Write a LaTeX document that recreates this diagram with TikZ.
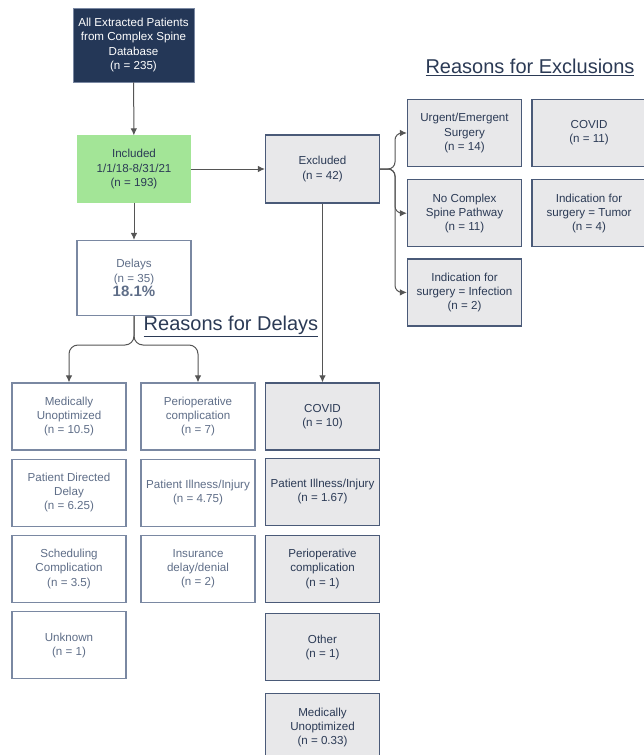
\documentclass[tikz,border=0pt]{standalone}
\usepackage{fontspec}
\setmainfont{Liberation Sans}
\usetikzlibrary{arrows.meta,positioning}
\definecolor{navybox}{HTML}{243757}
\definecolor{greenbox}{HTML}{A3E597}
\definecolor{boxgray}{HTML}{E8E8EA}
\definecolor{linedark}{HTML}{4A5A78}
\definecolor{linelight}{HTML}{7A88A2}
\definecolor{textdark}{HTML}{2B3A55}
\definecolor{textlight}{HTML}{5F6E88}
\definecolor{flowgray}{HTML}{555555}

\begin{document}
\begin{tikzpicture}[x=1pt, y=-1pt, >={Latex[length=7pt,width=6.5pt]}, node distance=8pt,
  every node/.style={font=\fontsize{11.6}{14.2}\selectfont},
  box/.style={line width=1.2pt, align=center, minimum width=114pt, minimum height=67pt, inner sep=2pt},
  delaybox/.style={box, draw=linelight, fill=white, text=textlight},
  exclbox/.style={box, draw=linedark, fill=boxgray, text=textdark},
  title/.style={font=\fontsize{20}{24}\selectfont, text=textdark, inner sep=0pt},
  flow/.style={->, line width=1pt, draw=flowgray}]
\useasboundingbox (0,0) rectangle (644,755);
% main column
\node[box, fill=navybox, draw=linelight, line width=0.6pt, text=white, minimum width=121pt, minimum height=74pt] (all) at (133.5,45) {All Extracted Patients\\from Complex Spine\\Database\\(n = 235)};
\node[box, fill=greenbox, draw=greenbox, text=textdark, minimum width=112pt, minimum height=66pt] (incl) at (134,169) {Included\\1/1/18-8/31/21\\(n = 193)};
\node[delaybox, minimum height=75pt] (delays) at (134,278) {Delays\\(n = 35)\\{\fontsize{15}{17}\selectfont\bfseries 18.1\%}};
\node[exclbox, minimum height=68pt] (excl) at (322.5,169) {Excluded\\(n = 42)};
% reasons for exclusions
\node[title] (exttitle) at (530,67) {\underline{Reasons for Exclusions}};
\node[exclbox] (urgent) at (464.5,133) {Urgent/Emergent\\Surgery\\(n = 14)};
\node[exclbox, below=12pt of urgent] (nopath) {No Complex\\Spine Pathway\\(n = 11)};
\node[exclbox, below=11pt of nopath] (infect) {Indication for\\surgery = Infection\\(n = 2)};
\node[exclbox] (covidx) at (589,133) {COVID\\(n = 11)};
\node[exclbox, below=12pt of covidx] (tumor) {Indication for\\surgery = Tumor\\(n = 4)};
% reasons for delays
\node[title] (delaytitle) at (231,326) {\underline{Reasons for Delays}};
\node[delaybox] (medun) at (69,416.5) {Medically\\Unoptimized\\(n = 10.5)};
\node[delaybox, below=of medun] (patdir) {Patient Directed\\Delay\\(n = 6.25)};
\node[delaybox, below=of patdir] (sched) {Scheduling\\Complication\\(n = 3.5)};
\node[delaybox, below=of sched] (unknown) {Unknown\\(n = 1)};
\node[delaybox] (periop) at (198,416.5) {Perioperative\\complication\\(n = 7)};
\node[delaybox, below=of periop] (illness) {Patient Illness/Injury\\(n = 4.75)};
\node[delaybox, below=of illness] (insur) {Insurance\\delay/denial\\(n = 2)};
% delays among excluded
\node[exclbox] (covidd) at (322.5,416.5) {COVID\\(n = 10)};
\node[exclbox, below=7pt of covidd] (illnessd) {Patient Illness/Injury\\(n = 1.67)};
\node[exclbox, below=9pt of illnessd] (periopd) {Perioperative\\complication\\(n = 1)};
\node[exclbox, below=10pt of periopd] (otherd) {Other\\(n = 1)};
\node[exclbox, below=12pt of otherd] (medund) {Medically\\Unoptimized\\(n = 0.33)};
% connectors
\draw[flow] (all) -- (incl);
\draw[flow] (incl) -- (excl);
\draw[flow] (incl) -- (delays);
\draw[flow] (excl) -- (covidd);
\coordinate (xsplit) at (395,169);
\foreach \target in {urgent,nopath,infect}
  \draw[flow, rounded corners=7pt] (excl.east) -- (xsplit) |- (\target.west);
\coordinate (dsplit) at (134,345);
\foreach \target in {medun,periop}
  \draw[flow, rounded corners=9pt] (delays.south) -- (dsplit) -| (\target.north);
\end{tikzpicture}
\end{document}
